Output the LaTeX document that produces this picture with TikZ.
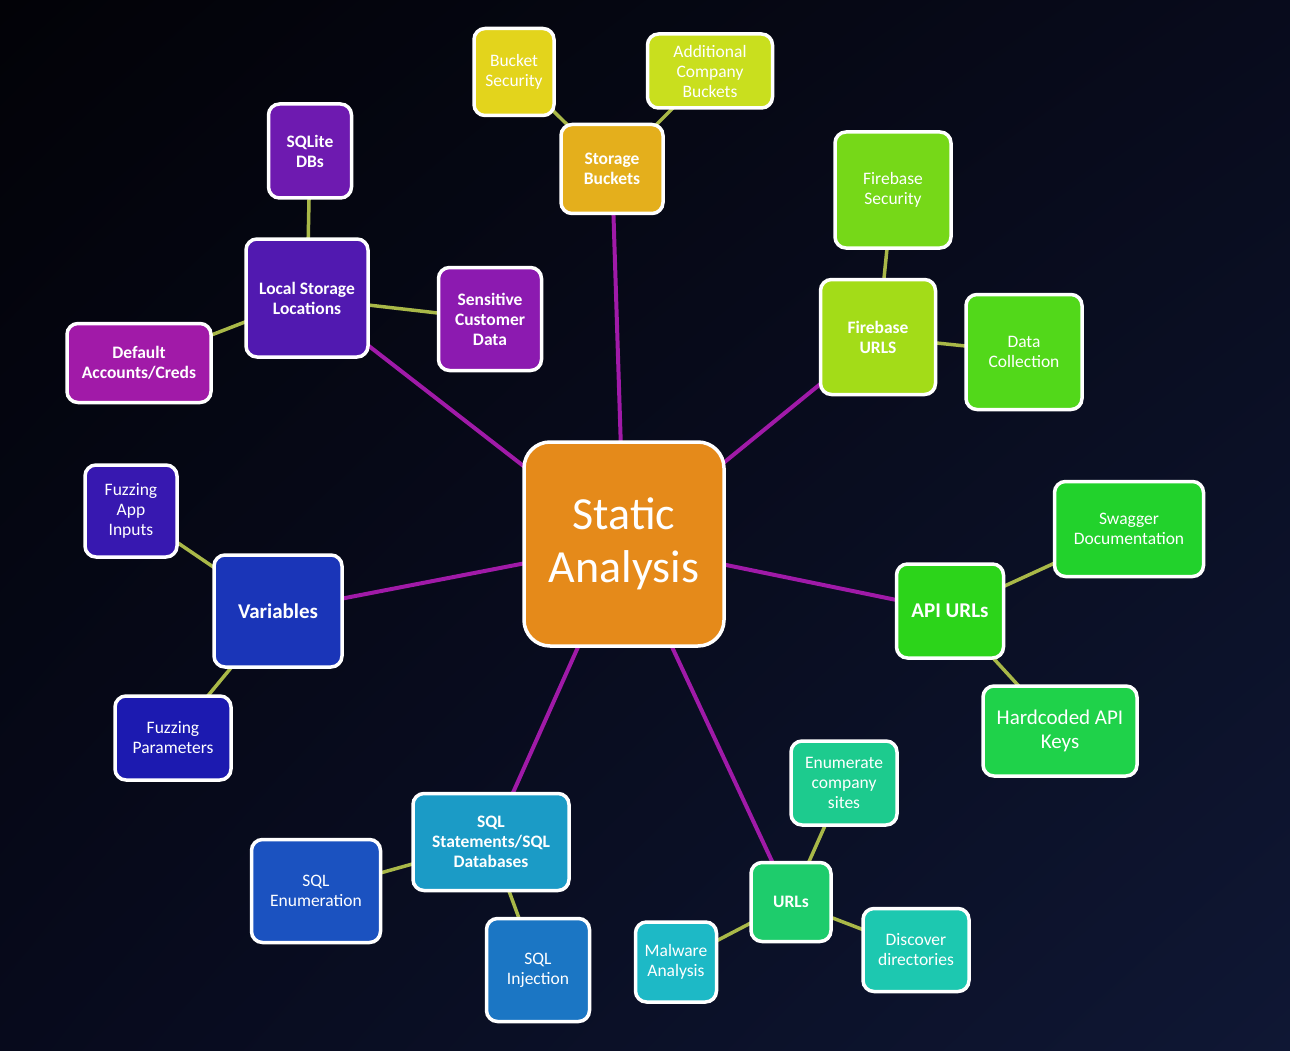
\documentclass[tikz,border=0pt]{standalone}
\usepackage{fontspec}
\setmainfont{Carlito}
\usetikzlibrary{backgrounds, shadings}

% box fills, from the hub outwards
\definecolor{cHub}{HTML}{E58A1A}
\definecolor{cStor}{HTML}{E4AF1C}
\definecolor{cBsec}{HTML}{E3D41C}
\definecolor{cAdd}{HTML}{C9DF1E}
\definecolor{cLoc}{HTML}{5119B0}
\definecolor{cSqlite}{HTML}{6E1AB0}
\definecolor{cSens}{HTML}{8C1AB0}
\definecolor{cDef}{HTML}{A11AA8}
\definecolor{cFbu}{HTML}{A3DC18}
\definecolor{cFbs}{HTML}{76D818}
\definecolor{cData}{HTML}{52D81A}
\definecolor{cApi}{HTML}{2CD41A}
\definecolor{cSwag}{HTML}{22D22C}
\definecolor{cKeys}{HTML}{1FD24A}
\definecolor{cUrl}{HTML}{1ECC6C}
\definecolor{cEnum}{HTML}{1DCB8E}
\definecolor{cDisc}{HTML}{1DC8B0}
\definecolor{cMal}{HTML}{1DB9C6}
\definecolor{cSql}{HTML}{1B9BC6}
\definecolor{cInj}{HTML}{1B76C4}
\definecolor{cSqen}{HTML}{1B52C0}
\definecolor{cVar}{HTML}{1A35B8}
\definecolor{cFpar}{HTML}{1C1AB0}
\definecolor{cFapp}{HTML}{3718B0}
\definecolor{cSpoke}{HTML}{A01AA8}
\definecolor{cTwig}{HTML}{A9B848}
% slide backdrop corners
\definecolor{bgUL}{HTML}{020207}
\definecolor{bgUR}{HTML}{080B1C}
\definecolor{bgLL}{HTML}{070A1C}
\definecolor{bgLR}{HTML}{0F1734}

\begin{document}
\begin{tikzpicture}[
  % one unit is one pixel of the 1290 x 1051 slide, y running down
  x=1pt, y=-1pt,
  bx/.style={draw=white, line width=3.5pt, rounded corners=11pt, align=center, text=white,
    inner sep=1pt, fill=#1, font=\fontsize{17.5}{20}\selectfont},
  sub/.style={bx=#1, font=\bfseries\fontsize{17.5}{20}\selectfont},
  big/.style={bx=#1, font=\fontsize{21}{24.5}\selectfont},
  sz/.style 2 args={minimum width=#1pt, minimum height=#2pt},
  spoke/.style={line width=4pt, cSpoke},
  twig/.style={line width=3.5pt, cTwig},
]
\useasboundingbox (0,0) rectangle (1290,1051);
% hub
\node[bx=cHub, sz={200}{204}, rounded corners=26pt, font=\fontsize{46}{53}\selectfont] (sa) at (624,544) {Static\\Analysis};
% storage buckets
\node[sub=cStor, sz={102}{89}] (stor) at (612,169) {Storage\\Buckets};
\node[bx=cBsec, sz={80}{87}] (bsec) at (514,72) {Bucket\\Security};
\node[bx=cAdd, sz={125}{74}] (add) at (710,71) {Additional\\Company\\Buckets};
% local storage
\node[sub=cLoc, sz={122}{118}] (loc) at (307,298) {Local Storage\\Locations};
\node[sub=cSqlite, sz={83}{94}] (sqlite) at (310,151) {SQLite\\DBs};
\node[sub=cSens, sz={103}{103}] (sens) at (490,319) {Sensitive\\Customer\\Data};
\node[sub=cDef, sz={144}{79}] (def) at (139,363) {Default\\Accounts/Creds};
% firebase
\node[sub=cFbu, sz={115}{115}] (fbu) at (878,337) {Firebase\\URLS};
\node[bx=cFbs, sz={116}{116}] (fbs) at (893,190) {Firebase\\Security};
\node[bx=cData, sz={116}{115}] (data) at (1024,352) {Data\\Collection};
% variables
\node[sub=cVar, sz={128}{112}, font=\bfseries\fontsize{21}{24.5}\selectfont] (var) at (278,611) {Variables};
\node[bx=cFapp, sz={92}{92}] (fapp) at (131,511) {Fuzzing\\App\\Inputs};
\node[bx=cFpar, sz={116}{84}] (fpar) at (173,738) {Fuzzing\\Parameters};
% api urls
\node[sub=cApi, sz={107}{94}, font=\bfseries\fontsize{21}{24.5}\selectfont] (api) at (950,611) {API URLs};
\node[bx=cSwag, sz={149}{95}] (swag) at (1129,529) {Swagger\\Documentation};
\node[big=cKeys, sz={154}{90}] (keys) at (1060,731) {Hardcoded API\\Keys};
% sql
\node[sub=cSql, sz={156}{97}] (sql) at (491,842) {SQL\\Statements/SQL\\Databases};
\node[bx=cSqen, sz={129}{103}] (sqen) at (316,891) {SQL\\Enumeration};
\node[bx=cInj, sz={103}{103}] (inj) at (538,970) {SQL\\Injection};
% urls
\node[sub=cUrl, sz={80}{79}] (url) at (791,902) {URLs};
\node[bx=cEnum, sz={106}{84}] (enum) at (844,783) {Enumerate\\company\\sites};
\node[bx=cDisc, sz={106}{83}] (disc) at (916,950) {Discover\\directories};
\node[bx=cMal, sz={81}{80}] (mal) at (676,962) {Malware\\Analysis};
% backdrop and connectors, centre to centre behind the boxes
\begin{scope}[on background layer]
  \shade[upper left=bgUL, upper right=bgUR, lower left=bgLL, lower right=bgLR]
    (0,0) rectangle (1290,1051);
  \foreach \n in {stor,loc,fbu,var,api,sql,url} \draw[spoke] (sa.center) -- (\n.center);
  \foreach \a/\b in {stor/bsec,stor/add,loc/sqlite,loc/sens,loc/def,fbu/fbs,fbu/data,
    var/fapp,var/fpar,api/swag,api/keys,sql/sqen,sql/inj,url/enum,url/disc,url/mal}
    \draw[twig] (\a.center) -- (\b.center);
\end{scope}
\end{tikzpicture}
\end{document}
